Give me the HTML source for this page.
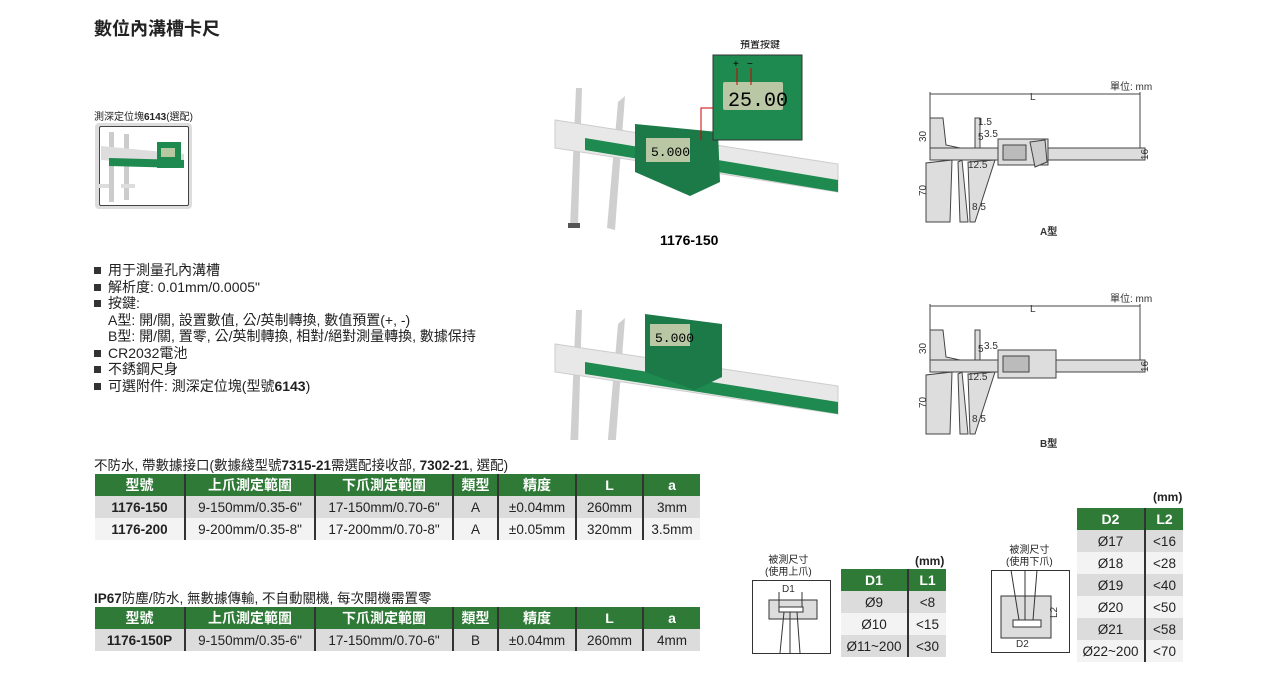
<!DOCTYPE html>
<html><head><meta charset="utf-8">
<style>
body{margin:0;width:1276px;height:680px;background:#fff;position:relative;overflow:hidden;font-family:"Liberation Sans","Noto Sans CJK TC",sans-serif;color:#222}
.a{position:absolute;white-space:nowrap}
table{position:absolute;border-collapse:collapse;font-size:13.5px}
td,th{padding:0;text-align:center;height:22px;border-left:2px solid #333}
td:first-child,th:first-child{border-left:none}
th{background:#2e7a36;color:#fff;font-weight:bold;font-size:14px}
tr.g td{background:#dcdcdc}
tr.l td{background:#f3f3f3}
ul{margin:0;padding:0;list-style:none}
li{line-height:16.5px;font-size:14px}
li.b{margin-left:-14px}
li.b:before{content:"";display:inline-block;width:7px;height:7px;background:#333;margin-right:7px;vertical-align:1px}
</style></head><body>
<div class="a" style="left:94px;top:15px;font-size:18px;font-weight:bold">數位內溝槽卡尺</div>
<div class="a" style="left:94px;top:108px;font-size:10px">測深定位塊<b>6143</b>(選配)</div>
<div class="a" style="left:95px;top:123px;width:97px;height:86px;background:#ddd;border-radius:4px"></div>
<div class="a" style="left:99px;top:126px;width:88px;height:78px;background:#fff;border:1px solid #444;border-radius:2px"></div>
<svg class="a" style="left:99px;top:126px" width="90" height="80">
<rect x="10" y="6" width="5" height="70" fill="#ccc"/><rect x="25" y="8" width="5" height="66" fill="#ccc"/>
<polygon points="2,20 85,28 85,40 2,34" fill="#ddd"/><polygon points="10,32 85,34 85,42 10,40" fill="#1f8a50"/>
<rect x="58" y="16" width="24" height="26" fill="#1f8a50"/><rect x="62" y="22" width="14" height="9" fill="#b8c8a0"/>
<rect x="-4" y="58" width="14" height="4" fill="#ddd"/><rect x="22" y="58" width="14" height="4" fill="#ddd"/>
</svg>
<ul class="a" style="left:108px;top:262px">
<li class="b">用于測量孔內溝槽</li>
<li class="b">解析度: 0.01mm/0.0005"</li>
<li class="b">按鍵:</li>
<li>A型: 開/關, 設置數值, 公/英制轉換, 數值預置(+, -)</li>
<li>B型: 開/關, 置零, 公/英制轉換, 相對/絕對測量轉換, 數據保持</li>
<li class="b">CR2032電池</li>
<li class="b">不銹鋼尺身</li>
<li class="b">可選附件: 測深定位塊(型號<b>6143</b>)</li>
</ul>

<svg class="a" style="left:540px;top:40px" width="310" height="400">
<g>
<polygon points="36,48 42,48 38,185 30,188" fill="#cfcfcf"/>
<rect x="28" y="183" width="12" height="5" fill="#555"/>
<polygon points="78,62 85,56 75,190 67,188" fill="#cfcfcf"/>
<polygon points="15,80 298,124 298,152 15,108" fill="#e8e8e8" stroke="#ccc"/>
<polygon points="45,98 298,140 298,152 45,110" fill="#1e8a4f"/>
<polygon points="95,84 178,92 180,142 150,156 95,132" fill="#1b7a48"/>
<rect x="106" y="98" width="44" height="24" fill="#b9c7a4"/>
<text x="111" y="116" font-size="13" font-family="Liberation Mono">5.000</text>
</g>
<rect x="173" y="15" width="89" height="85" fill="#1f8a50" stroke="#333"/>
<rect x="183" y="42" width="60" height="28" fill="#b9c7a4" rx="2"/>
<text x="188" y="66" font-size="20" font-family="Liberation Mono">25.00</text>
<text x="200" y="8" font-size="10">預置按鍵</text>
<text x="193" y="27" font-size="10" fill="#000">+</text><text x="207" y="27" font-size="10" fill="#000">−</text>
<line x1="197" y1="28" x2="197" y2="45" stroke="#c00"/><line x1="211" y1="28" x2="211" y2="45" stroke="#c00"/>
<polyline points="173,68 161,68 161,100" fill="none" stroke="#c00"/>
<text x="120" y="205" font-size="14" font-weight="bold">1176-150</text>
<g transform="translate(0,222)">
<polygon points="36,48 42,48 38,185 30,188" fill="#cfcfcf"/>
<rect x="28" y="183" width="12" height="5" fill="#555"/>
<polygon points="78,62 85,56 75,190 67,188" fill="#cfcfcf"/>
<polygon points="15,82 298,124 298,152 15,110" fill="#e8e8e8" stroke="#ccc"/>
<polygon points="45,100 298,140 298,152 45,112" fill="#1e8a4f"/>
<polygon points="105,52 182,62 182,115 155,128 105,110" fill="#1b7a48"/>
<rect x="110" y="62" width="40" height="22" fill="#b9c7a4"/>
<text x="115" y="80" font-size="13" font-family="Liberation Mono">5.000</text>
<text x="118" y="196" font-size="14" font-weight="bold">1176-150P</text>
</g>
</svg>

<svg class="a" style="left:900px;top:70px" width="260" height="400" font-size="10" font-family="Liberation Sans" fill="none">
<g stroke="#444" stroke-width="1">
<rect x="30" y="78" width="215" height="12" fill="#ddd"/>
<polygon points="30,78 30,48 43,48 46,75 60,78" fill="#ddd"/>
<polygon points="75,78 75,48 80,48 80,78" fill="#ddd"/>
<polygon points="26,93 26,152 50,152 52,90" fill="#ddd"/>
<polygon points="58,92 62,90 68,152 60,152" fill="#ddd"/>
<polygon points="68,92 95,90 75,152 70,152" fill="#ddd"/>
<rect x="98" y="69" width="50" height="26" fill="#ddd"/>
<rect x="103" y="75" width="23" height="15" fill="#bbb"/>
<polygon points="130,72 145,70 147,92 135,97" fill="#ccc"/>
<line x1="30" y1="24" x2="240" y2="24"/><line x1="30" y1="22" x2="30" y2="78"/><line x1="240" y1="22" x2="240" y2="78"/>
</g>
<g fill="#333" stroke="none">
<text x="130" y="30">L</text><text x="210" y="20">單位: mm</text>
<text x="68" y="98">12.5</text><text x="84" y="67">3.5</text><text x="78" y="55">1.5</text><text x="78" y="70">5</text>
<text x="72" y="140">8.5</text><text x="26" y="72" transform="rotate(-90 26 72)">30</text>
<text x="26" y="126" transform="rotate(-90 26 126)">70</text>
<text x="248" y="90" transform="rotate(-90 248 90)">16</text>
<text x="140" y="165" font-weight="bold">A型</text>
</g>
<g transform="translate(0,212)">
<g stroke="#444" stroke-width="1">
<rect x="30" y="78" width="215" height="12" fill="#ddd"/>
<polygon points="30,78 30,48 43,48 46,75 60,78" fill="#ddd"/>
<polygon points="75,78 75,48 80,48 80,78" fill="#ddd"/>
<polygon points="26,93 26,152 50,152 52,90" fill="#ddd"/>
<polygon points="58,92 62,90 68,152 60,152" fill="#ddd"/>
<polygon points="68,92 95,90 75,152 70,152" fill="#ddd"/>
<rect x="98" y="68" width="58" height="28" fill="#ddd"/>
<rect x="103" y="74" width="26" height="16" fill="#bbb"/>
<line x1="30" y1="24" x2="240" y2="24"/><line x1="30" y1="22" x2="30" y2="78"/><line x1="240" y1="22" x2="240" y2="78"/>
</g>
<g fill="#333" stroke="none">
<text x="130" y="30">L</text><text x="210" y="20">單位: mm</text>
<text x="68" y="98">12.5</text><text x="84" y="67">3.5</text><text x="78" y="70">5</text>
<text x="72" y="140">8.5</text><text x="26" y="72" transform="rotate(-90 26 72)">30</text>
<text x="26" y="126" transform="rotate(-90 26 126)">70</text>
<text x="248" y="90" transform="rotate(-90 248 90)">16</text>
<text x="140" y="165" font-weight="bold">B型</text>
</g></g>
</svg>

<div class="a" style="left:94px;top:454px;font-size:13.5px">不防水, 帶數據接口(數據綫型號<b>7315-21</b>需選配接收部, <b>7302-21</b>, 選配)</div>
<table style="left:95px;top:474px;width:605px">
<colgroup><col width="90"><col width="130"><col width="138"><col width="45"><col width="78"><col width="67"><col width="57"></colgroup>
<tr><th>型號</th><th>上爪測定範圍</th><th>下爪測定範圍</th><th>類型</th><th>精度</th><th>L</th><th>a</th></tr>
<tr class="g"><td><b>1176-150</b></td><td>9-150mm/0.35-6"</td><td>17-150mm/0.70-6"</td><td>A</td><td>±0.04mm</td><td>260mm</td><td>3mm</td></tr>
<tr class="l"><td><b>1176-200</b></td><td>9-200mm/0.35-8"</td><td>17-200mm/0.70-8"</td><td>A</td><td>±0.05mm</td><td>320mm</td><td>3.5mm</td></tr>
</table>
<div class="a" style="left:94px;top:587px;font-size:13.5px"><b>IP67</b>防塵/防水, 無數據傳輸, 不自動關機, 每次開機需置零</div>
<table style="left:95px;top:607px;width:605px">
<colgroup><col width="90"><col width="130"><col width="138"><col width="45"><col width="78"><col width="67"><col width="57"></colgroup>
<tr><th>型號</th><th>上爪測定範圍</th><th>下爪測定範圍</th><th>類型</th><th>精度</th><th>L</th><th>a</th></tr>
<tr class="g"><td><b>1176-150P</b></td><td>9-150mm/0.35-6"</td><td>17-150mm/0.70-6"</td><td>B</td><td>±0.04mm</td><td>260mm</td><td>4mm</td></tr>
</table>

<div class="a" style="left:765px;top:555px;font-size:10px;text-align:center;line-height:12px">被測尺寸<br>(使用上爪)</div>
<svg class="a" style="left:752px;top:580px" width="80" height="74">
<rect x="0.5" y="0.5" width="78" height="73" fill="#fff" stroke="#333"/>
<rect x="17" y="20" width="48" height="19" fill="#ddd" stroke="#333"/>
<rect x="27" y="27" width="24" height="5" fill="#fff" stroke="#333"/>
<line x1="27" y1="12" x2="27" y2="27" stroke="#333"/><line x1="50" y1="12" x2="50" y2="27" stroke="#333"/>
<text x="30" y="12" font-size="10" fill="#333">D1</text>
<polyline points="32,32 28,73" stroke="#333" fill="none"/><polyline points="45,32 48,73" stroke="#333" fill="none"/>
<line x1="38" y1="32" x2="38" y2="73" stroke="#333"/>
</svg>
<div class="a" style="left:915px;top:554px;font-size:12px;font-weight:bold">(mm)</div>
<table style="left:841px;top:569px;width:105px">
<colgroup><col width="67"><col width="38"></colgroup>
<tr><th>D1</th><th>L1</th></tr>
<tr class="g"><td>Ø9</td><td>&lt;8</td></tr>
<tr class="l"><td>Ø10</td><td>&lt;15</td></tr>
<tr class="g"><td>Ø11~200</td><td>&lt;30</td></tr>
</table>

<div class="a" style="left:1006px;top:545px;font-size:10px;text-align:center;line-height:12px">被測尺寸<br>(使用下爪)</div>
<svg class="a" style="left:991px;top:570px" width="80" height="84">
<rect x="0.5" y="0.5" width="78" height="82" fill="#fff" stroke="#333"/>
<rect x="10" y="26" width="50" height="42" fill="#ddd" stroke="#333"/>
<rect x="22" y="50" width="28" height="7" fill="#fff" stroke="#333"/>
<polyline points="20,0 28,50" stroke="#333" fill="none"/><polyline points="46,0 42,50" stroke="#333" fill="none"/>
<line x1="34" y1="0" x2="34" y2="50" stroke="#333"/>
<text x="25" y="77" font-size="10" fill="#333">D2</text>
<text x="66" y="48" font-size="10" fill="#333" transform="rotate(-90 66 48)">L2</text>
</svg>
<div class="a" style="left:1153px;top:490px;font-size:12px;font-weight:bold">(mm)</div>
<table style="left:1077px;top:508px;width:106px">
<colgroup><col width="68"><col width="38"></colgroup>
<tr><th>D2</th><th>L2</th></tr>
<tr class="g"><td>Ø17</td><td>&lt;16</td></tr>
<tr class="l"><td>Ø18</td><td>&lt;28</td></tr>
<tr class="g"><td>Ø19</td><td>&lt;40</td></tr>
<tr class="l"><td>Ø20</td><td>&lt;50</td></tr>
<tr class="g"><td>Ø21</td><td>&lt;58</td></tr>
<tr class="l"><td>Ø22~200</td><td>&lt;70</td></tr>
</table>
</body></html>
